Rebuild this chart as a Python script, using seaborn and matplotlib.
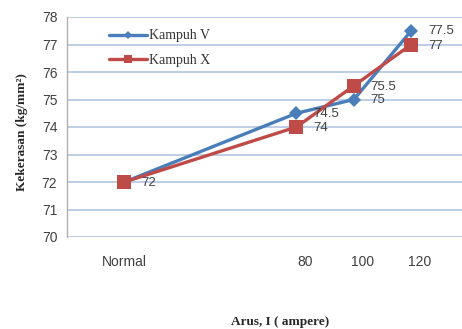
import pandas as pd
import numpy as np
import matplotlib
matplotlib.use('Agg')
import matplotlib.pyplot as plt
import matplotlib.transforms as mtrans
from matplotlib.lines import Line2D
import seaborn as sns

# data
arus = [20, 80, 100, 120]
arus_labels = ['Normal', '80', '100', '120']
kampuh_v = [72, 74.5, 75, 77.5]
kampuh_x = [72, 74, 75.5, 77]

df = pd.DataFrame({
    'arus': arus * 2,
    'kekerasan': kampuh_v + kampuh_x,
    'seri': ['Kampuh V'] * 4 + ['Kampuh X'] * 4,
})

sns.set_style('white')
plt.rcParams['font.family'] = ['Liberation Sans', 'DejaVu Sans']

fig = plt.figure(figsize=(4.62, 3.29), dpi=100)
ax = fig.add_axes([67/462, 1 - 237/329, (462 - 67)/462, 220/329])

warna = {'Kampuh V': '#4A7EBB', 'Kampuh X': '#BE4B48'}
sns.lineplot(data=df, x='arus', y='kekerasan', hue='seri', style='seri',
             palette=warna, markers={'Kampuh V': 'D', 'Kampuh X': 's'},
             dashes=False, linewidth=2.4, markersize=8, markeredgewidth=0,
             ax=ax, legend=False)
# squares a little bigger than diamonds
for line in ax.get_lines():
    if line.get_marker() == 's':
        line.set_markersize(9.5)
    else:
        line.set_markersize(7)

# data labels
teks = '#404040'
for xv, yv in zip(arus, kampuh_v):
    if xv == 20:
        continue
    ax.annotate(f'{yv:g}', (xv, yv), xytext=(12, -0.5), textcoords='offset points',
                fontsize=9.5, color=teks, va='center', ha='left')
for xv, yv in zip(arus, kampuh_x):
    ax.annotate(f'{yv:g}', (xv, yv), xytext=(12, -1), textcoords='offset points',
                fontsize=9.5, color=teks, va='center', ha='left')

ax.set_xlim(0, 137.7)
ax.set_ylim(70, 78)
ax.set_yticks(np.arange(70, 79, 1))
ax.set_xticks(arus)
ax.set_xticklabels(arus_labels)
ax.tick_params(axis='both', labelsize=10, labelcolor=teks, length=0)
ax.tick_params(axis='x', pad=13)
ax.tick_params(axis='y', pad=7)
geser = mtrans.ScaledTranslation(6/72, 0, fig.dpi_scale_trans)
for lab in ax.get_xticklabels()[1:]:
    lab.set_transform(lab.get_transform() + geser)

ax.grid(axis='y', color='#A9C0DE', linewidth=1.1)
ax.grid(axis='x', visible=False)
for s in ['top', 'right', 'bottom']:
    ax.spines[s].set_visible(False)
ax.spines['left'].set_color('#B0B0B0')
ax.spines['left'].set_linewidth(1)

ax.set_xlabel('')
ax.set_ylabel('')
fig.text(22/462, 1 - 132/329, 'Kekerasan (kg/mm²)', rotation=90, ha='center', va='center',
         fontsize=9.5, fontweight='bold', family=['Liberation Serif', 'DejaVu Serif'])
fig.text(280/462, 1 - 322/329, 'Arus, I ( ampere)', ha='center', va='center',
         fontsize=9.5, fontweight='bold', family=['Liberation Serif', 'DejaVu Serif'])

# legend drawn like the Excel one
handles = [Line2D([], [], color=warna['Kampuh V'], lw=2.4, marker='D', markersize=4, markeredgewidth=0),
           Line2D([], [], color=warna['Kampuh X'], lw=2.4, marker='s', markersize=6, markeredgewidth=0)]
leg = ax.legend(handles, ['Kampuh V', 'Kampuh X'], loc='upper left',
                bbox_to_anchor=(0.075, 1.0), frameon=False, handlelength=2.7,
                handletextpad=0.15, labelspacing=0.85,
                prop={'family': ['Liberation Serif', 'DejaVu Serif'], 'size': 10})
for t in leg.get_texts():
    t.set_color('#333333')

fig.savefig('out.png', dpi=100)
